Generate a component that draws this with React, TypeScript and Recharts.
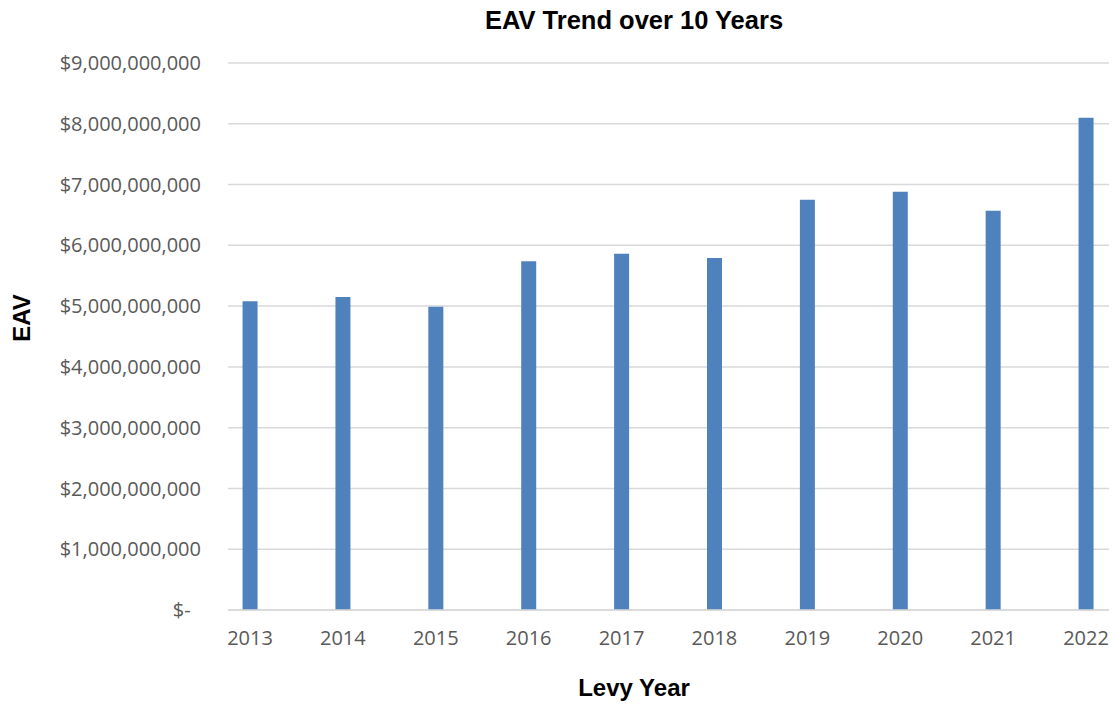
import { Bar, BarChart, CartesianGrid, XAxis, YAxis } from "recharts";

const years = [2013, 2014, 2015, 2016, 2017, 2018, 2019, 2020, 2021, 2022];
const eav = [5.08e9, 5.15e9, 4.99e9, 5.74e9, 5.86e9, 5.79e9, 6.75e9, 6.88e9, 6.57e9, 8.1e9];
const yTicks = [0, 1e9, 2e9, 3e9, 4e9, 5e9, 6e9, 7e9, 8e9, 9e9];

const data = years.map((year, i) => ({ year, eav: eav[i] }));

// accounting-style: zero shows as "$-" with a little trailing room
const money = (v: number) => (v === 0 ? "$-\u00a0\u00a0" : "$" + v.toLocaleString("en-US"));

const tickStyle = { fontFamily: "'Open Sans', sans-serif", fontSize: 20, fill: "#595959" };
const boldLabel: any = {
  position: "absolute",
  fontFamily: "'Liberation Sans', Arial, sans-serif",
  fontWeight: 700,
  color: "#000",
  whiteSpace: "nowrap",
};

export default function App() {
  return (
    <div style={{ position: "absolute", left: 0, top: 0, width: 1113, height: 705, background: "#fff" }}>
      <div style={{ ...boldLabel, left: 0, width: 1268, top: 6, textAlign: "center", fontSize: 25.5 }}>
        EAV Trend over 10 Years
      </div>
      <div style={{ ...boldLabel, left: 0, width: 1268, top: 674, textAlign: "center", fontSize: 24 }}>
        Levy Year
      </div>
      <div
        style={{
          ...boldLabel,
          left: 22,
          top: 318,
          fontSize: 24,
          transform: "translate(-50%, -50%) rotate(-90deg)",
        }}
      >
        EAV
      </div>
      <BarChart
        width={1113}
        height={705}
        data={data}
        margin={{ top: 63, right: 4, bottom: 0, left: 0 }}
        style={{ position: "absolute", left: 0, top: 0 }}
      >
        <CartesianGrid vertical={false} stroke="#d9d9d9" strokeWidth={1.5} />
        <XAxis
          dataKey="year"
          type="number"
          domain={[2013, 2022]}
          ticks={years}
          padding={{ left: 22, right: 23 }}
          height={95}
          tickLine={false}
          tickSize={0}
          tickMargin={21}
          axisLine={{ stroke: "#d9d9d9", strokeWidth: 1.5 }}
          tick={tickStyle}
          interval={0}
        />
        <YAxis
          domain={[0, 9e9]}
          ticks={yTicks}
          width={228}
          tickLine={false}
          tickSize={0}
          tickMargin={27}
          axisLine={false}
          tick={tickStyle}
          tickFormatter={money}
          interval={0}
        />
        <Bar dataKey="eav" fill="#4f81bd" barSize={15} isAnimationActive={false} />
      </BarChart>
    </div>
  );
}
